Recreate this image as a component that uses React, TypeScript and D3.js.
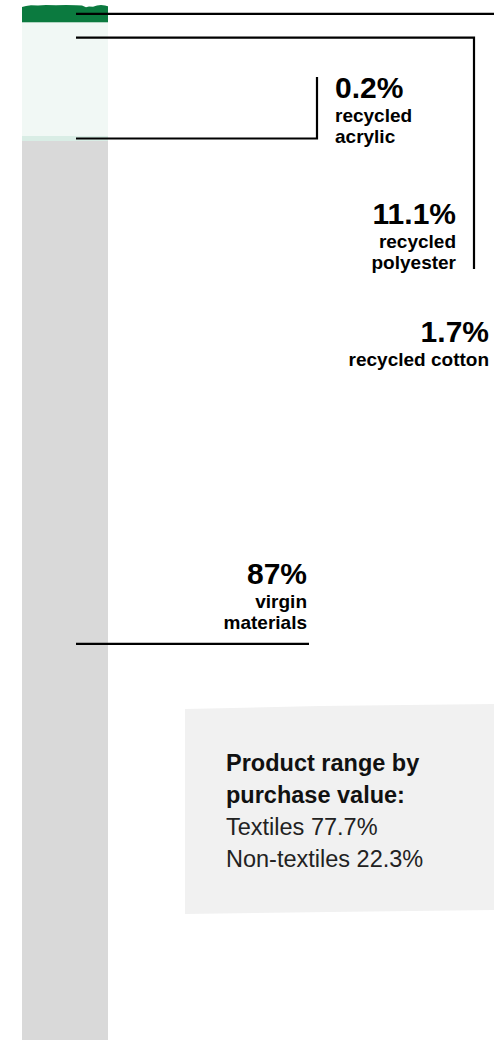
import React from "react";
import * as d3 from "d3";

// ---- data ----
const materials = ["recycled cotton", "recycled polyester", "recycled acrylic", "virgin materials"];
const shares = [1.7, 11.1, 0.2, 87];
const shareLabels = ["1.7%", "11.1%", "0.2%", "87%"];
const labelLines = [["recycled cotton"], ["recycled", "polyester"], ["recycled", "acrylic"], ["virgin", "materials"]];
const rangeCategories = ["Textiles", "Non-textiles"];
const rangeValues = [77.7, 22.3];
const rangeTitle = ["Product range by", "purchase value:"];

// ---- styles / layout ----
const W = 494;
const H = 1040;
const FONT = "'Liberation Sans', Arial, Helvetica, sans-serif";
const colors = ["#0b7a3f", "#f1f8f5", "#d9ede5", "#d9d9d9"];
const anchorFrac = [0.5, 0.13, 0.5, 0.56];
const bar = { x0: 22, x1: 108, lineX: 76 };
const NUM_SIZE = 30;
const SUB_SIZE = 19;
const FIRST_GAP = 23.7;
const STEP = 21.3;
const labelLayout = [
  { x: 489, anchor: "end", y: 342, elbow: null as null | { x: number; y: number }, lineEnd: 494 },
  { x: 456, anchor: "end", y: 224, elbow: { x: 474, y: 269 }, lineEnd: 474 },
  { x: 335, anchor: "start", y: 98, elbow: { x: 317, y: 77 }, lineEnd: 317 },
  { x: 307, anchor: "end", y: 584, elbow: null, lineEnd: 309 },
];

export default function App() {
  const y = d3.scaleLinear().domain([0, 100]).range([5, H]);
  const starts = d3.cumsum([0, ...shares]).slice(0, shares.length) as unknown as number[];
  const segs = shares.map((v, i) => {
    const s = starts[i];
    let top = y(s);
    let bot = y(s + v);
    if (bot - top < 5) {
      const m = (top + bot) / 2;
      top = m - 2.5;
      bot = m + 2.5;
    }
    return { v, i, top, bot, anchor: y(s + v * anchorFrac[i]) };
  });
  segs[1].bot = segs[2].top;
  segs[3].top = segs[2].bot;

  const tornTop = [
    [22, 7], [26, 6], [31, 5.2], [38, 5.6], [46, 5], [56, 5.3], [66, 5], [76, 5.2], [82, 5.5],
    [86, 7.2], [89, 6.4], [93, 6.8], [97, 5.4], [101, 5], [105, 5.6], [108, 6.2],
  ] as [number, number][];
  const line = d3.line();
  const greenPath =
    (line(tornTop) as string) + `L${bar.x1},${segs[0].bot}L${bar.x0},${segs[0].bot}Z`;

  const box = [[185, 709], [320, 706], [494, 704], [494, 910], [330, 912], [185, 914]] as [number, number][];

  return (
    <svg width={W} height={H} style={{ position: "absolute", left: 0, top: 0, display: "block" }} fontFamily={FONT}>
      <rect x={0} y={0} width={W} height={H} fill="#fff" />
      {/* bar */}
      {segs.map((s) =>
        s.i === 0 ? (
          <path key={s.i} d={greenPath} fill={colors[0]} />
        ) : (
          <rect key={s.i} x={bar.x0} y={s.top} width={bar.x1 - bar.x0} height={Math.max(0, s.i === 3 ? H - s.top + 10 : s.bot - s.top)} fill={colors[s.i]} />
        )
      )}
      {/* leader lines */}
      {segs.map((s) => {
        const L = labelLayout[s.i];
        const pts: [number, number][] = [[bar.lineX, s.anchor], [L.lineEnd, s.anchor]];
        if (L.elbow) pts.push([L.elbow.x, L.elbow.y]);
        return <path key={"l" + s.i} d={line(pts) as string} fill="none" stroke="#000" strokeWidth={2.2} />;
      })}
      {/* labels */}
      {materials.map((m, i) => {
        const L = labelLayout[i];
        return (
          <text key={m} x={L.x} y={L.y} textAnchor={L.anchor} fill="#000" fontWeight="bold">
            <tspan x={L.x} y={L.y} fontSize={NUM_SIZE}>{shareLabels[i]}</tspan>
            {labelLines[i].map((t, k) => (
              <tspan key={k} x={L.x} y={L.y + FIRST_GAP + k * STEP} fontSize={SUB_SIZE}>{t}</tspan>
            ))}
          </text>
        );
      })}
      {/* info box */}
      <path d={(line(box) as string) + "Z"} fill="#f1f1f1" />
      <g fill="#111" fontSize={23.5}>
        {rangeTitle.map((t, k) => (
          <text key={t} x={226} y={771 + k * 32} fontWeight="bold">{t}</text>
        ))}
        {rangeCategories.map((c, k) => (
          <text key={c} x={226} y={835 + k * 32} fontWeight={300} fill="#222">{`${c} ${rangeValues[k]}%`}</text>
        ))}
      </g>
    </svg>
  );
}
